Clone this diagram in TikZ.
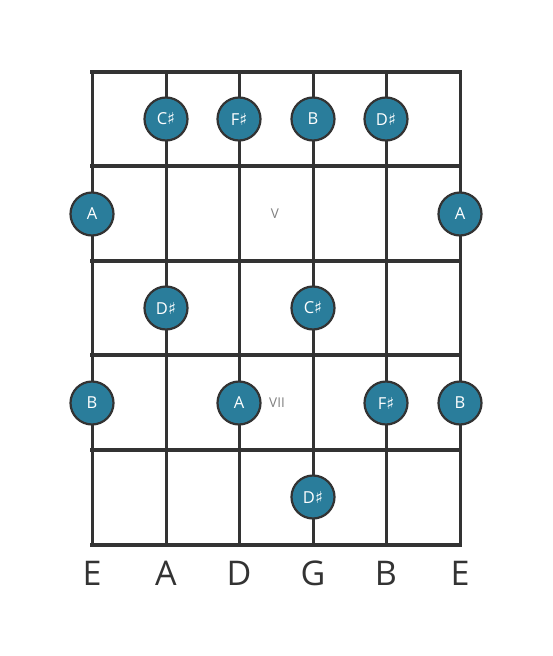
\documentclass[tikz,border=0pt]{standalone}
\usepackage{fontspec}
\setmainfont{Open Sans}
\newfontfamily\symf{DejaVu Sans}
\definecolor{noteblue}{HTML}{2A7D9B}
\definecolor{ink}{HTML}{333333}
\newcommand{\shp}{{\symf\char"266F}}
\begin{document}
\begin{tikzpicture}[x=1pt,y=-1pt,
  note/.style={circle,fill=noteblue,draw=ink,line width=2.2pt,minimum size=43pt,inner sep=0pt,text=white,font=\fontsize{16.5}{16.5}\selectfont},
  fretline/.style={ink,line width=4.5pt},
  strline/.style={ink,line width=3pt},
  fretnum/.style={text=gray,font=\fontsize{13.5}{13.5}\selectfont},
  sname/.style={text=ink,font=\fontsize{34}{34}\selectfont}]
\useasboundingbox (0,0) rectangle (553,656);
\foreach \x [count=\i] in {92,166,239,313,386,460} {
  \coordinate (st\i) at (\x,72);
  \coordinate (sb\i) at (\x,545);
  \draw[strline] (st\i) -- (sb\i);
}
\foreach \y [count=\j] in {72,166,261,355,450,545} {
  \coordinate (fl\j) at (90,\y);
  \coordinate (fr\j) at (462,\y);
  \draw[fretline] (fl\j) -- (fr\j);
}
% row 1
\node[note] (n1) at (166,119) {C\shp};
\node[note] (n2) at (239,119) {F\shp};
\node[note] (n3) at (313,119) {B};
\node[note] (n4) at (386,119) {D\shp};
% row 2
\node[note] (n5) at (92,214) {A};
\node[note] (n6) at (460,214) {A};
\node[fretnum] (p5) at (275,214) {V};
% row 3
\node[note] (n7) at (166,308) {D\shp};
\node[note] (n8) at (313,308) {C\shp};
% row 4
\node[note] (n9) at (92,403) {B};
\node[note] (n10) at (239,403) {A};
\node[note] (n11) at (386,403) {F\shp};
\node[note] (n12) at (460,403) {B};
\node[fretnum] (p7) at (277,403) {VII};
% row 5
\node[note] (n13) at (313,497) {D\shp};
% string names
\foreach \x/\s [count=\i] in {92/E,166/A,239/D,313/G,386/B,460/E}
  \node[sname] (l\i) at (\x,573) {\s};
\end{tikzpicture}
\end{document}
